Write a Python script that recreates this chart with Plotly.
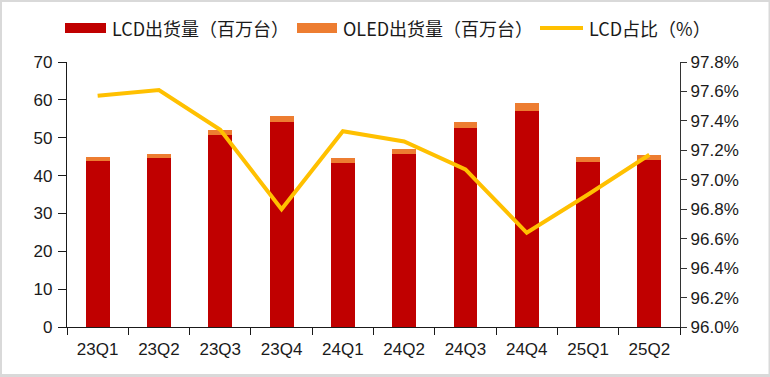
import plotly.graph_objects as go

quarters = ["23Q1", "23Q2", "23Q3", "23Q4", "24Q1", "24Q2", "24Q3", "24Q4", "25Q1", "25Q2"]
lcd_units = [43.8, 44.6, 50.7, 54.1, 43.3, 45.8, 52.6, 57.1, 43.5, 44.2]
oled_units = [1.1, 1.0, 1.4, 1.7, 1.3, 1.3, 1.6, 2.0, 1.3, 1.2]
lcd_share = [97.57, 97.61, 97.34, 96.80, 97.33, 97.26, 97.07, 96.64, 96.90, 97.17]

names = ["LCD出货量（百万台）", "OLED出货量（百万台）", "LCD占比（%）"]
RED = "#C00000"
ORANGE = "#ED7D31"
YELLOW = "#FFC000"

W, H = 770, 377
L, R, T, B = 67, 90, 62, 50
PW, PH = W - L - R, H - T - B


def px(x):
    return (x - L) / PW


def py(y):
    return (H - B - y) / PH


FONT = "Liberation Sans, Arial, Noto Sans CJK SC, sans-serif"
LEGFONT = "Liberation Sans Narrow, Arial Narrow, Noto Sans CJK SC, sans-serif"

fig = go.Figure()
fig.add_trace(go.Bar(x=quarters, y=lcd_units, name=names[0], marker=dict(color=RED, line=dict(width=0))))
fig.add_trace(go.Bar(x=quarters, y=oled_units, name=names[1], marker=dict(color=ORANGE, line=dict(width=0))))
fig.add_trace(go.Scatter(x=quarters, y=lcd_share, name=names[2], yaxis="y2", mode="lines",
                         line=dict(color=YELLOW, width=4)))

shapes = [
    dict(type="rect", xref="paper", yref="paper", layer="below",
         x0=px(2), x1=px(768.5), y0=py(374), y1=py(2),
         fillcolor="white", line=dict(width=0)),
    dict(type="rect", xref="paper", yref="paper", x0=px(65), x1=px(106), y0=py(33), y1=py(23),
         fillcolor=RED, line=dict(width=0)),
    dict(type="rect", xref="paper", yref="paper", x0=px(297), x1=px(337), y0=py(33), y1=py(23),
         fillcolor=ORANGE, line=dict(width=0)),
    dict(type="line", xref="paper", yref="paper", x0=px(540), x1=px(583), y0=py(28), y1=py(28),
         line=dict(color=YELLOW, width=4)),
]

annotations = []
for text, x0 in zip(names, [110, 341, 587]):
    annotations.append(dict(text=text, xref="paper", yref="paper", x=px(x0), y=py(28),
                            xanchor="left", yanchor="middle", showarrow=False,
                            font=dict(family=LEGFONT, size=18, color="#1a1a1a")))

fig.update_layout(
    width=W, height=H,
    margin=dict(l=L, r=R, t=T, b=B),
    paper_bgcolor="#d9d9d9",
    plot_bgcolor="rgba(0,0,0,0)",
    barmode="stack",
    bargap=0.61,
    showlegend=False,
    shapes=shapes,
    annotations=annotations,
    font=dict(family=FONT, size=16, color="#1a1a1a"),
    xaxis=dict(type="category", showgrid=False, showline=True, linecolor="#1a1a1a", linewidth=1.3,
               ticks="outside", tickson="boundaries", ticklen=7, tickcolor="#1a1a1a", tickwidth=1.3,
               tickfont=dict(size=17), ticklabelstandoff=6),
    yaxis=dict(range=[0, 70], dtick=10, showgrid=False, zeroline=False, showline=True,
               linecolor="#1a1a1a", linewidth=1.3, ticks="outside", ticklen=8, tickcolor="#1a1a1a",
               tickwidth=1.3, tickfont=dict(size=17), ticklabelstandoff=2),
    yaxis2=dict(range=[96.0, 97.8], dtick=0.2, tickformat=".1f", ticksuffix="%", overlaying="y",
                side="right", showgrid=False, zeroline=False, showline=True, linecolor="#333333",
                linewidth=1.3, ticks="outside", ticklen=6, tickcolor="#333333", tickwidth=1.3,
                tickfont=dict(size=17)),
)

fig.write_html("out.html", config={"displayModeBar": False},
               post_script="document.body.style.margin='0';")
